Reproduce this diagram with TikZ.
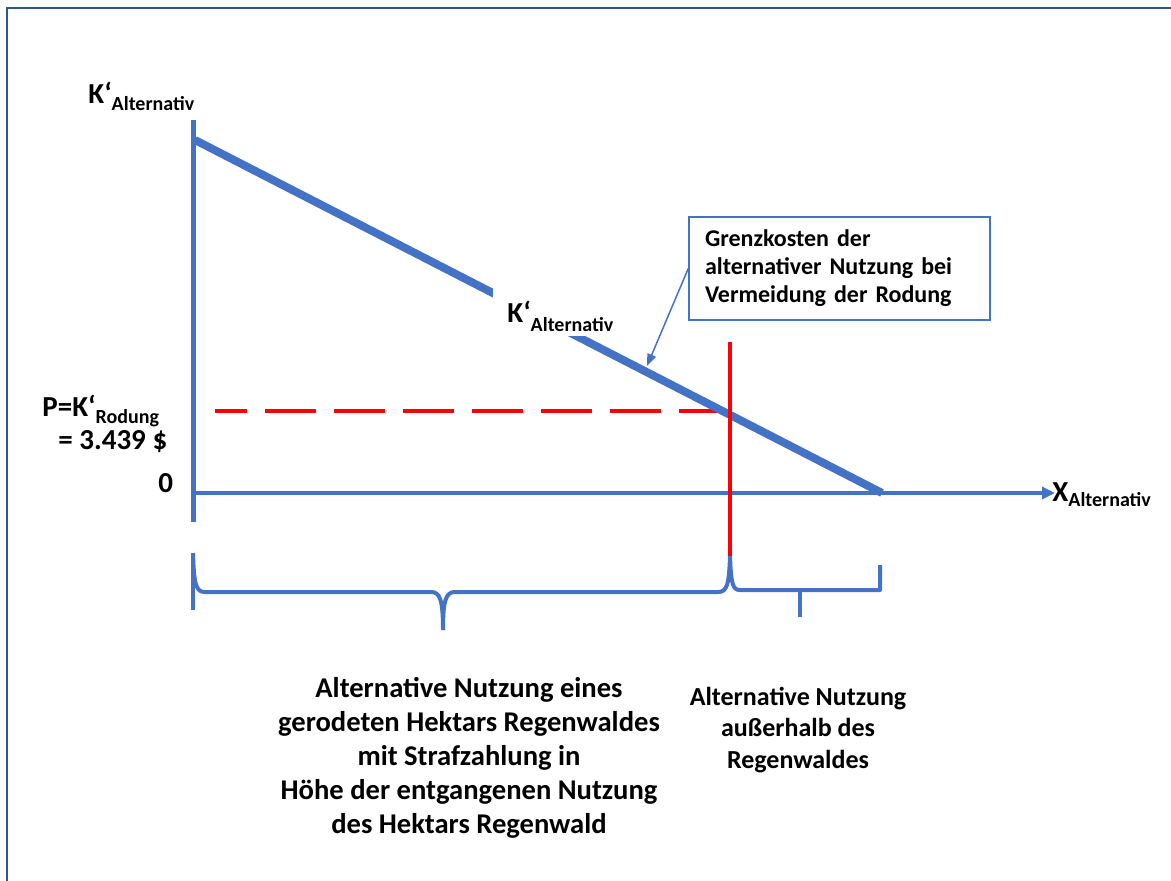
\documentclass[tikz,border=0pt]{standalone}
\usepackage{fontspec}
\setmainfont{Carlito}
\usetikzlibrary{arrows.meta}
\definecolor{axisblue}{HTML}{4472C4}
\definecolor{framebl}{HTML}{2F5597}
\definecolor{redl}{HTML}{FF0000}
\newcommand\mylabsub[3]{{\fontsize{14.5}{14.5}\selectfont #1}{\fontsize{10}{10}\selectfont\raisebox{-#3}{#2}}}
\begin{document}
\begin{tikzpicture}[x=0.5pt,y=-0.5pt, font=\bfseries,
  bluel/.style={draw=axisblue, line width=2pt},
  redline/.style={draw=redl, line width=2pt},
  lbl/.style={inner sep=0pt, anchor=base west},
  bigtext/.style={inner sep=0pt, align=center, font=\bfseries\fontsize{14.3}{17}\selectfont},
  midtext/.style={inner sep=0pt, align=center, font=\bfseries\fontsize{13}{15.8}\selectfont},
 ]
\useasboundingbox (0,0) rectangle (1171,881);
% frame
\draw[framebl, line width=0.75pt] (7,881) -- (7,8) -- (1171,8);

% coordinates
\coordinate (Ytop) at (193,120);
\coordinate (Ybot) at (193,522);
\coordinate (Xstart) at (195,493);
\coordinate (Xend) at (1055,493);
\coordinate (Dstart) at (195,140);
\coordinate (Dend) at (882,493);
\coordinate (Pstart) at (215,411);
\coordinate (Pend) at (730,411);
\coordinate (Vtop) at (730,342);
\coordinate (Vbot) at (730,556);
\coordinate (ptr) at (647,366);

% red dashed price line
\draw[redline, dash pattern=on 25.5pt off 9pt] (Pend) -- (Pstart);

% axes
\draw[axisblue, line width=2.5pt] (Ytop) -- (Ybot);
\draw[bluel, -{Triangle[length=6.5pt,width=6pt]}] (Xstart) -- (Xend);

% marginal cost line
\draw[axisblue, line width=4pt] (Dstart) -- (Dend);
\node[fill=white, inner sep=0pt, minimum width=66pt, minimum height=25.5pt] (kmidbg) at (559,310.5) {};
\node[lbl] (kmid) at (507,323) {\mylabsub{K‘}{Alternativ}{4.5pt}};

% red vertical
\draw[redline] (Vtop) -- (Vbot);

% braces
\draw[bluel] (193,553) -- (193,610);
\draw[bluel, line join=round] (193,553) .. controls (194,585) and (196,592) .. (205,592) -- (431,592)
  .. controls (440,592) and (443,600) .. (443,630);
\draw[bluel, line join=round] (443,630) .. controls (443,600) and (446,592) .. (455,592) -- (718,592)
  .. controls (727,592) and (729,585) .. (Vbot);
\draw[bluel, line join=round] (Vbot) .. controls (731,585) and (733,590) .. (740,590) -- (880,590) -- (880,565);
\draw[bluel] (800,590) -- (800,617);

% callout
\node[draw=axisblue, line width=0.75pt, minimum width=150.5pt, minimum height=51.5pt,
  text width=134.5pt, inner xsep=7.5pt, inner ysep=0pt, align=left,
  font=\bfseries\fontsize{12}{14}\selectfont] (box) at (839.5,268.5)
  {Grenzkosten der\\alternativer Nutzung bei\\Vermeidung der Rodung};
\draw[axisblue, line width=0.75pt, -{Triangle[length=6pt,width=4.5pt]}] (box.west) -- (ptr);

% axis labels
\node[lbl] (ktop) at (88,104) {\mylabsub{K‘}{Alternativ}{3.5pt}};
\node[lbl] (plab) at (42,417) {\mylabsub{P=K‘}{Rodung}{3pt}};
\node[lbl, font=\bfseries\fontsize{14.5}{14.5}\selectfont] (pval) at (58,450) {= 3.439 \$};
\node[lbl, font=\bfseries\fontsize{14.5}{14.5}\selectfont] (zero) at (158,492) {0};
\node[lbl] (xlab) at (1052,502) {\mylabsub{X}{Alternativ}{2pt}};

% brace texts
\node[bigtext] (t1) at (469,757.5) {Alternative Nutzung eines\\gerodeten Hektars Regenwaldes\\mit Strafzahlung in\\Höhe der entgangenen Nutzung\\des Hektars Regenwald};
\node[midtext] (t2) at (798,730) {Alternative Nutzung\\außerhalb des\\Regenwaldes};
\end{tikzpicture}
\end{document}
